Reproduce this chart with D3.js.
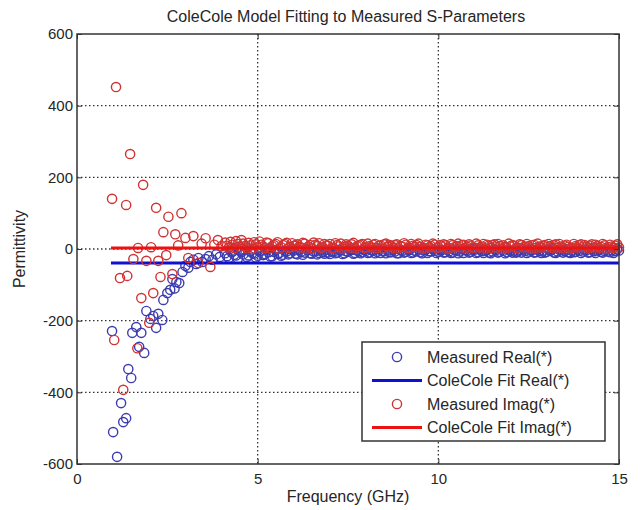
<!DOCTYPE html>
<html>
<head>
<meta charset="utf-8">
<script src="https://cdn.jsdelivr.net/npm/d3@7"></script>
<style>
    body { margin: 0; background: #fff; }
    svg text { font-family: "Liberation Sans", Arial, sans-serif; fill: #262626; }
</style>
</head>
<body>
<svg id="chart"></svg>
<script>
/*
    ColeCole model fit vs measured S-parameters
 */

const config = {
    width: 642,
    height: 510,
    left: 77,
    right: 619,
    top: 34,
    bottom: 464
};

// measured real part (frequency in GHz, permittivity)
const realFreq = [0.97, 1.00, 1.11, 1.22, 1.28, 1.36, 1.42, 1.50, 1.53, 1.64, 1.72, 1.78, 1.86, 1.92, 2.03, 2.11, 2.19, 2.25, 2.36, 2.39,
    2.50, 2.58, 2.64, 2.70, 2.75, 2.83, 2.92, 3.00, 3.08, 3.14, 3.22, 3.30, 3.36, 3.47, 3.56, 3.65, 3.75, 3.85, 3.95];
const realVal = [-229, -511, -580, -430, -483, -472, -335, -360, -234, -218, -273, -234, -290, -173, -195, -187, -220, -181, -198, -142,
    -123, -114, -84, -110, -92, -95, -64, -47, -52, -36, -30, -42, -25, -36, -28, -20, -30, -15, -22];

// measured imaginary part
const imagFreq = [0.97, 1.03, 1.08, 1.19, 1.28, 1.36, 1.39, 1.47, 1.56, 1.67, 1.69, 1.78, 1.83, 1.92, 2.00, 2.05, 2.11, 2.19, 2.25, 2.31,
    2.39, 2.47, 2.53, 2.64, 2.72, 2.80, 2.89, 3.00, 3.08, 3.22, 3.36, 3.45, 3.56, 3.69, 3.80, 3.90, 4.00];
const imagVal = [140, -254, 452, -81, -393, 123, -75, 265, -28, -277, 3, -137, 179, -33, -206, 5, -123, 115, -33, -78,
    47, -17, 90, -70, 41, 10, 100, 31, -25, 36, -39, 15, 30, -50, 12, 25, 8];

// dense part of the sweep, shared by both measured series
const denseFreq = [4.1, 4.2, 4.3, 4.4, 4.5, 4.6, 4.7, 4.8, 4.9, 5.0, 5.1, 5.2, 5.3, 5.4, 5.5, 5.6, 5.7, 5.8, 5.9, 6.0,
    6.1, 6.2, 6.3, 6.4, 6.5, 6.6, 6.7, 6.8, 6.9, 7.0, 7.1, 7.2, 7.3, 7.4, 7.5, 7.6, 7.7, 7.8, 7.9, 8.0,
    8.1, 8.2, 8.3, 8.4, 8.5, 8.6, 8.7, 8.8, 8.9, 9.0, 9.1, 9.2, 9.3, 9.4, 9.5, 9.6, 9.7, 9.8, 9.9, 10.0,
    10.1, 10.2, 10.3, 10.4, 10.5, 10.6, 10.7, 10.8, 10.9, 11.0, 11.1, 11.2, 11.3, 11.4, 11.5, 11.6, 11.7, 11.8, 11.9, 12.0,
    12.1, 12.2, 12.3, 12.4, 12.5, 12.6, 12.7, 12.8, 12.9, 13.0, 13.1, 13.2, 13.3, 13.4, 13.5, 13.6, 13.7, 13.8, 13.9, 14.0,
    14.1, 14.2, 14.3, 14.4, 14.5, 14.6, 14.7, 14.8, 14.9, 15.0];
const denseReal = [-12, -25, -8, -18, -4, -15, -22, -6, -13, -19, -5, -14, -9, -20, -3, -11, -16, -7, -12, -4,
    -15, -8, -10, -3, -13, -6, -11, -9, -2, -14, -7, -10, -4, -12, -8, -3, -11, -6, -9, -5,
    -10, -4, -8, -11, -6, -2, -9, -7, -12, -5, -8, -3, -10, -6, -9, -4, -11, -7, -5, -8,
    -3, -9, -6, -10, -4, -7, -11, -5, -8, -2, -9, -6, -4, -10, -7, -3, -8, -5, -9, -6,
    -4, -8, -10, -5, -7, -3, -9, -6, -4, -8, -5, -10, -7, -3, -6, -9, -4, -8, -5, -7,
    -3, -9, -6, -4, -8, -5, -7, -3, -6, -4];
const denseImag = [18, 4, 12, 22, 6, 15, 2, 10, 19, 5, 12, 3, 16, 8, 14, 1, 11, 17, 6, 9,
    13, 4, 15, 7, 2, 12, 16, 5, 10, 14, 3, 11, 15, 6, 9, 13, 2, 10, 14, 5,
    8, 12, 3, 10, 13, 6, 9, 11, 2, 7, 12, 4, 9, 11, 6, 3, 10, 8, 12, 5,
    7, 10, 3, 11, 8, 5, 12, 6, 9, 4, 10, 7, 2, 9, 11, 5, 8, 10, 3, 7,
    9, 4, 11, 6, 8, 10, 3, 7, 9, 5, 8, 10, 4, 7, 9, 6, 3, 8, 10, 5,
    7, 9, 4, 8, 6, 10, 5, 7, 9, 4];

// the in-between sweep points
const denseFreq2 = [4.15, 4.25, 4.35, 4.45, 4.55, 4.65, 4.75, 4.85, 4.95, 5.05, 5.15, 5.25, 5.35, 5.45, 5.55, 5.65, 5.75, 5.85, 5.95, 6.05,
    6.15, 6.25, 6.35, 6.45, 6.55, 6.65, 6.75, 6.85, 6.95, 7.05, 7.15, 7.25, 7.35, 7.45, 7.55, 7.65, 7.75, 7.85, 7.95, 8.05,
    8.15, 8.25, 8.35, 8.45, 8.55, 8.65, 8.75, 8.85, 8.95, 9.05, 9.15, 9.25, 9.35, 9.45, 9.55, 9.65, 9.75, 9.85, 9.95, 10.05,
    10.15, 10.25, 10.35, 10.45, 10.55, 10.65, 10.75, 10.85, 10.95, 11.05, 11.15, 11.25, 11.35, 11.45, 11.55, 11.65, 11.75, 11.85, 11.95, 12.05,
    12.15, 12.25, 12.35, 12.45, 12.55, 12.65, 12.75, 12.85, 12.95, 13.05, 13.15, 13.25, 13.35, 13.45, 13.55, 13.65, 13.75, 13.85, 13.95, 14.05,
    14.15, 14.25, 14.35, 14.45, 14.55, 14.65, 14.75, 14.85, 14.95];
const denseReal2 = [-20, -6, -16, -27, -9, -3, -18, -11, -24, -7, -17, -2, -21, -8, -14, -19, -5, -15, -1, -13,
    -3, -16, -1, -12, -7, -15, -2, -13, -10, -6, -12, -2, -14, -6, -1, -13, -4, -12, -2, -11,
    -3, -12, -1, -5, -12, -9, -2, -12, -3, -10, -1, -11, -5, -1, -12, -2, -6, -1, -11, -2,
    -10, -1, -11, -2, -12, -1, -3, -10, -1, -11, -1, -11, -2, -12, -1, -10, -1, -12, -2, -10,
    -10, -2, -1, -11, -2, -10, -1, -11, -10, -1, -1, -11, -2, -10, -1, -11, -9, -1, -11, -2,
    -10, -1, -11, -2, -10, -1, -9, -11, -1];
const denseImag2 = [9, 20, 3, 14, 25, 8, 17, 1, 13, 21, 7, 18, 2, 11, 19, 5, 14, 3, 16, 10,
    6, 17, 1, 11, 18, 8, 3, 14, 9, 2, 16, 7, 1, 13, 4, 17, 8, 12, 3, 15,
    4, 14, 9, 1, 15, 11, 3, 13, 8, 16, 2, 14, 6, 15, 1, 12, 5, 15, 3, 11,
    13, 1, 14, 5, 15, 11, 2, 13, 3, 15, 4, 14, 12, 3, 13, 14, 1, 6, 15, 11,
    2, 13, 5, 14, 1, 12, 15, 4, 11, 14, 3, 13, 14, 2, 12, 1, 14, 4, 13, 11,
    2, 13, 12, 3, 14, 1, 12, 3, 13];

// ColeCole fit (flat over the band)
const fitFreq = [0.94, 15];
const fitReal = [-39, -39];
const fitImag = [3, 3];

const xTicks = [0, 5, 10, 15];
const yTicks = [-600, -400, -200, 0, 200, 400, 600];

const legendLabels = ["Measured Real(*)", "ColeCole Fit Real(*)", "Measured Imag(*)", "ColeCole Fit Imag(*)"];

const blue = "#3c3cb0", red = "#d03232";
const blueLine = "#1010d0", redLine = "#ee1111";

const x = d3.scaleLinear().domain([0, 15]).range([config.left, config.right]);
const y = d3.scaleLinear().domain([-600, 600]).range([config.bottom, config.top]);

const svg = d3.select("#chart")
    .attr("width", config.width)
    .attr("height", config.height);

svg.append("rect").attr("width", config.width).attr("height", config.height).attr("fill", "#fff");

// grid
const grid = svg.append("g").attr("class", "grid");
grid.selectAll("line.gx")
    .data(xTicks.slice(1, -1))
    .enter().append("line")
    .attr("x1", d => x(d)).attr("x2", d => x(d))
    .attr("y1", config.top).attr("y2", config.bottom);
grid.selectAll("line.gy")
    .data(yTicks.slice(1, -1))
    .enter().append("line")
    .attr("x1", config.left).attr("x2", config.right)
    .attr("y1", d => y(d)).attr("y2", d => y(d));
grid.selectAll("line")
    .attr("stroke", "#333")
    .attr("stroke-width", 1.3)
    .attr("stroke-dasharray", "1.5,2.5");

const plot = svg.append("g");

function points (xs, ys, color) {
    plot.append("g")
        .selectAll("circle")
        .data(xs.map((f, i) => [f, ys[i]]))
        .enter().append("circle")
        .attr("cx", d => x(d[0]))
        .attr("cy", d => y(d[1]))
        .attr("r", 4.6)
        .attr("fill", "none")
        .attr("stroke", color)
        .attr("stroke-width", 1.4);
}

function fitLine (xs, ys, color) {
    plot.append("path")
        .datum(xs.map((f, i) => [f, ys[i]]))
        .attr("d", d3.line().x(d => x(d[0])).y(d => y(d[1])))
        .attr("fill", "none")
        .attr("stroke", color)
        .attr("stroke-width", 3);
}

points(realFreq.concat(denseFreq, denseFreq2), realVal.concat(denseReal, denseReal2), blue);
fitLine(fitFreq, fitReal, blueLine);
points(imagFreq.concat(denseFreq, denseFreq2), imagVal.concat(denseImag, denseImag2), red);
fitLine(fitFreq, fitImag, redLine);

// axes (ticks inside, like matlab), plain hyphen for negatives
const fmt = d => String(d);
const xAxis = d3.axisBottom(x).tickValues(xTicks).tickSize(-5).tickSizeOuter(0).tickPadding(9).tickFormat(fmt);
const yAxis = d3.axisLeft(y).tickValues(yTicks).tickSize(-5).tickSizeOuter(0).tickPadding(4).tickFormat(fmt);

svg.append("g")
    .attr("transform", `translate(0, ${config.bottom})`)
    .call(xAxis)
    .call(g => g.selectAll("text").attr("font-size", 15));
svg.append("g")
    .attr("transform", `translate(${config.left}, 0)`)
    .call(yAxis)
    .call(g => g.selectAll("text").attr("font-size", 15));
// top / right ticks
svg.append("g")
    .attr("transform", `translate(0, ${config.top})`)
    .call(d3.axisTop(x).tickValues(xTicks).tickSize(-5).tickSizeOuter(0).tickFormat(""));
svg.append("g")
    .attr("transform", `translate(${config.right}, 0)`)
    .call(d3.axisRight(y).tickValues(yTicks).tickSize(-5).tickSizeOuter(0).tickFormat(""));

svg.selectAll(".domain").remove();
svg.selectAll(".tick line").attr("stroke", "#333");

svg.append("rect")
    .attr("x", config.left).attr("y", config.top)
    .attr("width", config.right - config.left)
    .attr("height", config.bottom - config.top)
    .attr("fill", "none")
    .attr("stroke", "#333")
    .attr("stroke-width", 1.5);

// labels
svg.append("text")
    .attr("x", 346)
    .attr("y", 22)
    .attr("text-anchor", "middle")
    .attr("font-size", 16)
    .text("ColeCole Model Fitting to Measured S-Parameters");

svg.append("text")
    .attr("x", 348)
    .attr("y", 502)
    .attr("text-anchor", "middle")
    .attr("font-size", 16)
    .text("Frequency (GHz)");

svg.append("text")
    .attr("transform", `translate(25, ${(config.top + config.bottom) / 2}) rotate(-90)`)
    .attr("text-anchor", "middle")
    .attr("font-size", 16)
    .text("Permittivity");

// legend
const legend = svg.append("g").attr("transform", "translate(362, 342)");
legend.append("rect")
    .attr("width", 243).attr("height", 99)
    .attr("fill", "#fff")
    .attr("stroke", "#333")
    .attr("stroke-width", 1.5);

const rows = legend.selectAll("g.row")
    .data(legendLabels)
    .enter().append("g")
    .attr("transform", (d, i) => `translate(0, ${15 + i * 23.5})`);

rows.each(function (d, i) {
    const g = d3.select(this);
    if (i % 2 === 0) {
        g.append("circle").attr("cx", 35).attr("r", 4.6)
            .attr("fill", "none").attr("stroke", i === 0 ? blue : red).attr("stroke-width", 1.4);
    } else {
        g.append("line").attr("x1", 10).attr("x2", 60)
            .attr("stroke", i === 1 ? blueLine : redLine).attr("stroke-width", 3);
    }
    g.append("text")
        .attr("x", 65)
        .attr("dy", "0.35em")
        .attr("font-size", 16)
        .text(d);
});
</script>
</body>
</html>
